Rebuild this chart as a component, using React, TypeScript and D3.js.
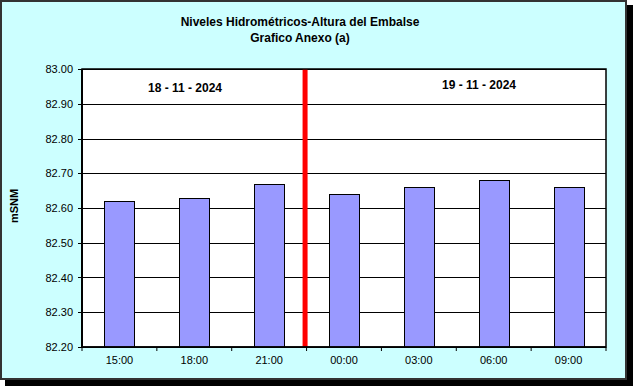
import React from "react";
import * as d3 from "d3";

const categories = ["15:00", "18:00", "21:00", "00:00", "03:00", "06:00", "09:00"];
const values = [82.62, 82.63, 82.67, 82.64, 82.66, 82.68, 82.66];
const yTicks = [82.2, 82.3, 82.4, 82.5, 82.6, 82.7, 82.8, 82.9, 83.0];
const titleLines = ["Niveles Hidrométricos-Altura del Embalse", "Grafico Anexo (a)"];
const dateLabels = ["18 - 11 - 2024", "19 - 11 - 2024"];
const dividerAfter = "21:00";

export default function App() {
  const W = 633, H = 386;
  const left = 82, right = 606, top = 69, bottom = 347;
  const x = d3.scaleBand().domain(categories).range([left, right]).paddingInner(0.6).paddingOuter(0.3);
  const xb = d3.scaleBand().domain(categories).range([left, right]).padding(0);
  const y = d3.scaleLinear().domain([82.2, 83.0]).range([bottom, top]);
  const font = "Arial, 'Liberation Sans', sans-serif";
  const divX = (xb(dividerAfter) as number) + xb.bandwidth() - 1.5;
  const dateLayout = [{ x: 185, y: 92 }, { x: 479, y: 89 }];
  return (
    <svg width={W} height={H} style={{ position: "absolute", left: 0, top: 0 }} fontFamily={font}>
      <rect x={5} y={5} width={628} height={381} fill="#000" />
      <rect x={1} y={1} width={625} height={378} fill="#CCFFFF" stroke="#333" strokeWidth={2} />
      {titleLines.map((t, i) => (
        <text key={i} x={300} y={26 + i * 16} textAnchor="middle" fontSize={12} fontWeight="bold" fill="#000">{t}</text>
      ))}
      <rect x={left} y={top} width={right - left} height={bottom - top} fill="#fff" />
      {yTicks.map((t) => (
        <g key={t}>
          <line x1={left} x2={right} y1={Math.round(y(t)) + 0.5} y2={Math.round(y(t)) + 0.5} stroke="#000" strokeWidth={1} />
          <line x1={left - 4} x2={left} y1={Math.round(y(t)) + 0.5} y2={Math.round(y(t)) + 0.5} stroke="#000" />
          <text x={73} y={y(t) + 4} textAnchor="end" fontSize={11} fill="#000">{t.toFixed(2)}</text>
        </g>
      ))}
      {categories.map((c, i) => (
        <rect key={c} x={Math.round(x(c) as number) + 0.5} y={Math.round(y(values[i])) + 0.5} width={Math.round(x.bandwidth())}
          height={bottom - Math.round(y(values[i]))} fill="#9999FF" stroke="#000" strokeWidth={1} />
      ))}
      <line x1={divX} x2={divX} y1={top} y2={bottom} stroke="#FF0000" strokeWidth={5} />
      <rect x={left} y={top} width={right - left} height={bottom - top} fill="none" stroke="#000" strokeWidth={1.5} />
      <line x1={left} x2={left} y1={top} y2={bottom + 1} stroke="#000" strokeWidth={2} />
      <line x1={left} x2={right} y1={bottom} y2={bottom} stroke="#000" strokeWidth={1.5} />
      {categories.map((c) => (
        <line key={"t" + c} x1={(xb(c) as number) + xb.bandwidth()} x2={(xb(c) as number) + xb.bandwidth()} y1={bottom} y2={bottom + 4} stroke="#000" />
      ))}
      <line x1={left} x2={left} y1={bottom} y2={bottom + 4} stroke="#000" />
      {categories.map((c) => (
        <text key={"l" + c} x={(xb(c) as number) + xb.bandwidth() / 2} y={364} textAnchor="middle" fontSize={11} fill="#000">{c}</text>
      ))}
      {dateLabels.map((d, i) => (
        <text key={d} x={dateLayout[i].x} y={dateLayout[i].y} textAnchor="middle" fontSize={12} fontWeight="bold" fill="#000">{d}</text>
      ))}
      <text transform={`translate(14,206) rotate(-90)`} textAnchor="middle" dominantBaseline="central" fontSize={11} fontWeight="bold" fill="#000">mSNM</text>
    </svg>
  );
}
